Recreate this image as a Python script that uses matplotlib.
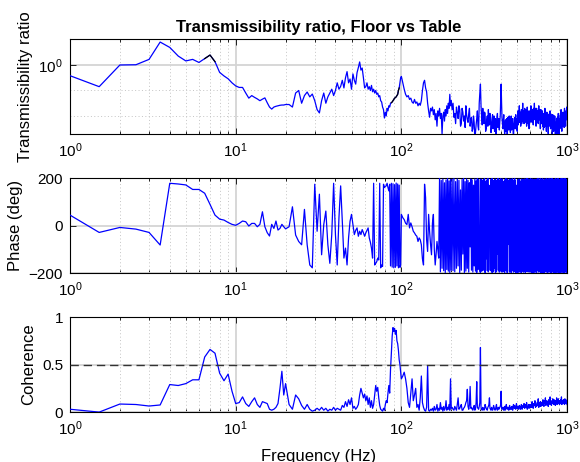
import numpy as np
import matplotlib
matplotlib.use('Agg')
import matplotlib.pyplot as plt
from matplotlib.ticker import FixedLocator, NullFormatter, LogLocator

plt.rcParams['font.family'] = ['Liberation Sans', 'DejaVu Sans']
plt.rcParams['mathtext.fontset'] = 'custom'
plt.rcParams['mathtext.rm'] = 'Liberation Sans'
plt.rcParams['mathtext.it'] = 'Liberation Sans:italic'
plt.rcParams['mathtext.bf'] = 'Liberation Sans:bold'
plt.rcParams['path.simplify'] = False

# ---------------- data ----------------
# frequency grid (Hz), four segments
freq_a = np.arange(1.0, 20.01, 0.5)      # 39 points
freq_b = np.arange(21.0, 100.01, 1.0)    # 80 points
freq_c = np.arange(102.0, 200.01, 2.0)   # 50 points
freq_d = np.arange(202.5, 1000.01, 2.5)  # 320 points

# transmissibility, stored as 100*log10(ratio)
trans_a = [-42, -85, 0, 1, 22, 90, 69, 35, 16, 22, 10, 25, 39, 13, -29, -43, -54, -70, -82, -88,
           -88, -110, -130, -120, -127, -133, -140, -134, -129, -148, -165, -173, -165, -162, -160, -158, -157, -157, -155]
trans_b = [-155, -165, -110, -100, -150, -120, -106, -125, -114, -140,
           -175, -188, -140, -110, -150, -125, -110, -95, -120, -100,
           -70, -95, -84, -60, -90, -50, -26, -70, -55, -95,
           -35, -60, -75, -30, -10, 12, -20, -12, -50, -90,
           -85, -70, -95, -85, -100, -80, -105, -95, -110, -100,
           -115, -110, -125, -120, -140, -145, -165, -175, -208, -185,
           -200, -170, -180, -160, -165, -150, -148, -145, -140, -135,
           -130, -128, -125, -120, -115, -100, -90, -70, -50, -45]
trans_c = [-70, -95, -115, -125, -120, -135, -130, -145, -150, -135,
           -150, -145, -160, -150, -158, -140, -100, -70, -60, -90,
           -105, -150, -180, -205, -170, -180, -165, -195, -175, -215,
           -190, -240, -180, -200, -170, -210, -190, -270, -200, -185,
           -220, -175, -200, -160, -190, -150, -170, -115, -160, -140]
trans_d = [-175, -150, -205, -190, -230, -165, -185, -210, -160, -175, -240, -230, -170, -185, -220, -200, -245, -160, -195, -215,
           -225, -190, -170, -240, -215, -205, -260, -250, -200, -225, -290, -265, -235, -210, -180, -240, -255, -150, -110, -75,
           -160, -200, -235, -170, -210, -230, -185, -190, -260, -250, -215, -200, -240, -175, -225, -235, -190, -205, -265, -245,
           -215, -195, -250, -225, -200, -260, -230, -210, -275, -240, -205, -190, -245, -230, -210, -255, -225, -200, -140, -75,
           -150, -210, -230, -250, -215, -195, -245, -270, -235, -215, -260, -240, -210, -280, -250, -205, -230, -255, -200, -220,
           -245, -265, -225, -200, -255, -240, -215, -210, -265, -290, -240, -225, -205, -250, -230, -195, -250, -235, -210, -260,
           -215, -180, -235, -220, -195, -160, -225, -205, -185, -240, -210, -175, -230, -215, -190, -150, -220, -200, -180, -230,
           -200, -170, -225, -210, -175, -190, -215, -240, -200, -165, -230, -220, -180, -195, -235, -250, -205, -180, -225, -210,
           -190, -160, -215, -200, -185, -225, -200, -175, -210, -235, -170, -190, -210, -150, -195, -215, -170, -185, -220, -240,
           -200, -170, -225, -205, -180, -185, -215, -230, -195, -160, -205, -215, -175, -195, -230, -250, -210, -175, -220, -205,
           -185, -230, -200, -180, -240, -215, -195, -255, -220, -190, -245, -225, -200, -170, -215, -240, -210, -200, -235, -260,
           -215, -185, -240, -225, -190, -205, -245, -270, -230, -195, -220, -235, -200, -215, -240, -180, -215, -250, -225, -200,
           -225, -240, -195, -210, -250, -275, -230, -195, -215, -230, -205, -260, -235, -200, -225, -245, -200, -215, -250, -280,
           -240, -225, -265, -300, -250, -235, -210, -260, -280, -205, -225, -245, -215, -190, -220, -230, -250, -270, -235, -210,
           -225, -250, -215, -195, -230, -235, -200, -175, -205, -225, -245, -260, -225, -205, -220, -240, -210, -185, -215, -230,
           -215, -200, -230, -245, -200, -170, -205, -225, -195, -190, -220, -240, -205, -180, -200, -215, -185, -165, -195, -200]

# phase (deg)
phase_a = [44, -29, -8, -15, -29, -82, 178, 175, 171, 152, 152, 136, 89, 44, 27, 23, 13, 5, 1, 9,
           19, 16, -2, 9, 9, -5, 5, 58, -5, -30, -44, 5, -12, 19, -19, -12, 5, -5, -14]
phase_b = [-5, 79, -40, -67, -81, 68, -81, -166, -178, 174,
           -24, 132, -123, 4, 61, -81, -159, -38, 178, -38,
           -166, 33, 167, 18, -137, -95, -166, -52, 18, 47,
           4, -38, -20, -10, -45, -24, -38, -17, -30, -45,
           -31, -20, -10, -52, -70, -95, -137, 178, -166, -159,
           -152, -137, -145, 178, -178, -166, -172, 174, 160, 165,
           167, 178, 160, 146, 174, -170, 178, -175, 176, -178,
           172, -176, 179, -170, 175, -178, 170, -176, -166, 47]
phase_c = [33, 25, 10, 4, 47, -10, 11, -5, -24, -31,
           -40, -45, -67, -52, -60, -81, -140, -166, 174, 118,
           -60, -109, 47, -24, -80, -123, 10, 47, -100, -166,
           -120, -67, -100, -137, 200, -195, 190, -180, 195, -190,
           180, -198, 192, -185, 198, -192, 188, -198, 194, -188]
phase_d = [195, -190, 198, -195, 185, -180, 196, -170, 190, -198, 150, -188, 194, -120, 199, -198, 185, -192, 196, -180,
           190, -196, 180, -90, 196, -188, 192, -196, 170, -170, 196, -192, 188, -198, 198, -185, 194, 60, -192, -198,
           196, -192, 188, -190, 194, -185, 198, -198, 186, -140, 192, -190, 199, -195, 170, 100, -188, -188, 194, -196,
           198, -198, 190, -192, 185, -180, 196, -198, 192, -194, 188, -120, 199, -188, 194, -196, 186, -192, 198, -180,
           190, -196, 196, -194, 185, 140, -190, -198, 194, -190, 198, -185, 188, -198, 195, -80, 190, 185, -192, -196,
           196, -192, 188, -198, 194, -180, 198, -190, 186, -196, 192, -150, 199, -194, 190, -198, 170, 30, -196, -192,
           192, -198, 188, -188, 196, -190, 194, -196, 185, 170, -192, -198, 196, -192, 188, -180, 194, -196, 190, -194,
           196, -188, 192, -198, 186, -194, 198, -110, 190, 198, -194, -190, 188, -180, 196, -196, 190, -192, 194, -188,
           198, -196, 192, -194, 188, -198, 196, -180, 192, -190, 188, -198, 194, -40, 185, 195, -196, -192, 194, 188,
           -192, -198, 196, 194, -190, -185, 198, 198, -192, -196, 188, 180, -194, -190, 198, 196, -190, -198, 194, 192,
           -196, -188, 192, 198, -198, -194, 188, 150, -194, -198, 196, 190, -190, -196, 194, 194, -188, -180, 196, 198,
           -196, -192, 190, 196, -194, -198, 192, 188, -190, -194, 198, 198, -180, 60, 194, -190, -198, 196, 192, -198,
           196, 192, -190, -196, 198, 198, -194, -188, 190, 194, -198, -198, 192, 190, -196, -120, 190, 196, -198, -194,
           196, 198, -190, -192, 192, 188, -196, -198, 194, 196, -190, -190, 198, 194, -186, -198, 192, 150, -196, -196,
           194, 192, -190, -198, 196, 196, -198, -180, 194, 198, -190, -194, 196, 190, -192, -196, 198, 198, -196, -188,
           192, 194, -196, -198, 190, 196, -194, -192, 198, 198, -190, -190, 194, 188, -198, -196, 192, 194, -196, -198]

# coherence
coh_a = [0.03, 0.0, 0.085, 0.08, 0.064, 0.075, 0.29, 0.28, 0.30, 0.34, 0.34, 0.58, 0.66, 0.62, 0.41, 0.33, 0.40, 0.22, 0.09, 0.10,
         0.16, 0.09, 0.06, 0.11, 0.15, 0.08, 0.05, 0.11, 0.10, 0.09, 0.03, 0.02, 0.03, 0.05, 0.09, 0.25, 0.43, 0.18, 0.30]
coh_b = [0.08, 0.03, 0.18, 0.14, 0.07, 0.03, 0.08, 0.03, 0.01, 0.02,
         0.04, 0.02, 0.05, 0.02, 0.04, 0.01, 0.03, 0.02, 0.05, 0.02,
         0.04, 0.03, 0.02, 0.07, 0.05, 0.11, 0.06, 0.13, 0.08, 0.15,
         0.04, 0.06, 0.03, 0.05, 0.08, 0.18, 0.25, 0.20, 0.15, 0.19,
         0.12, 0.17, 0.08, 0.15, 0.05, 0.12, 0.04, 0.08, 0.18, 0.28,
         0.22, 0.26, 0.15, 0.07, 0.03, 0.02, 0.01, 0.04, 0.02, 0.08,
         0.12, 0.10, 0.20, 0.28, 0.20, 0.45, 0.62, 0.80, 0.89, 0.85,
         0.88, 0.82, 0.86, 0.75, 0.72, 0.65, 0.55, 0.50, 0.42, 0.35]
coh_c = [0.38, 0.42, 0.35, 0.25, 0.10, 0.05, 0.20, 0.35, 0.12, 0.18,
         0.25, 0.05, 0.08, 0.02, 0.15, 0.38, 0.10, 0.05, 0.02, 0.01,
         0.05, 0.49, 0.02, 0.01, 0.03, 0.02, 0.04, 0.01, 0.06, 0.02,
         0.03, 0.08, 0.01, 0.04, 0.02, 0.10, 0.03, 0.05, 0.01, 0.06,
         0.02, 0.04, 0.12, 0.02, 0.05, 0.03, 0.08, 0.02, 0.35, 0.04]
coh_d = [0.05, 0.03, 0.02, 0.06, 0.04, 0.02, 0.08, 0.15, 0.03, 0.04, 0.06, 0.08, 0.02, 0.02, 0.04, 0.05, 0.07, 0.10, 0.12, 0.24,
         0.06, 0.03, 0.08, 0.27, 0.04, 0.05, 0.03, 0.02, 0.05, 0.07, 0.02, 0.03, 0.10, 0.32, 0.05, 0.04, 0.03, 0.06, 0.10, 0.68,
         0.05, 0.03, 0.02, 0.05, 0.04, 0.02, 0.03, 0.08, 0.06, 0.04, 0.03, 0.02, 0.05, 0.06, 0.08, 0.15, 0.04, 0.03, 0.02, 0.05,
         0.04, 0.02, 0.03, 0.07, 0.05, 0.04, 0.02, 0.03, 0.06, 0.08, 0.03, 0.02, 0.04, 0.05, 0.03, 0.04, 0.05, 0.06, 0.08, 0.22,
         0.05, 0.03, 0.04, 0.05, 0.03, 0.02, 0.05, 0.06, 0.02, 0.04, 0.06, 0.08, 0.04, 0.03, 0.05, 0.05, 0.03, 0.02, 0.05, 0.07,
         0.03, 0.04, 0.05, 0.03, 0.04, 0.06, 0.03, 0.02, 0.06, 0.08, 0.05, 0.04, 0.07, 0.05, 0.04, 0.03, 0.06, 0.09, 0.05, 0.04,
         0.05, 0.06, 0.04, 0.03, 0.05, 0.07, 0.06, 0.05, 0.03, 0.04, 0.06, 0.08, 0.05, 0.03, 0.04, 0.06, 0.07, 0.05, 0.06, 0.09,
         0.06, 0.04, 0.05, 0.07, 0.08, 0.05, 0.07, 0.10, 0.05, 0.03, 0.04, 0.06, 0.06, 0.08, 0.05, 0.04, 0.06, 0.07, 0.08, 0.05,
         0.06, 0.08, 0.07, 0.05, 0.08, 0.11, 0.09, 0.06, 0.05, 0.04, 0.07, 0.09, 0.08, 0.07, 0.10, 0.12, 0.07, 0.05, 0.06, 0.08,
         0.08, 0.06, 0.07, 0.10, 0.09, 0.07, 0.11, 0.14, 0.08, 0.05, 0.07, 0.09, 0.10, 0.08, 0.06, 0.11, 0.08, 0.06, 0.09, 0.10,
         0.07, 0.09, 0.10, 0.07, 0.09, 0.13, 0.10, 0.08, 0.07, 0.06, 0.09, 0.11, 0.12, 0.09, 0.11, 0.15, 0.09, 0.07, 0.08, 0.10,
         0.10, 0.12, 0.09, 0.08, 0.11, 0.10, 0.07, 0.06, 0.10, 0.13, 0.08, 0.09, 0.12, 0.11, 0.13, 0.16, 0.10, 0.08, 0.09, 0.10,
         0.09, 0.07, 0.10, 0.12, 0.11, 0.09, 0.12, 0.14, 0.09, 0.10, 0.11, 0.08, 0.10, 0.13, 0.11, 0.09, 0.12, 0.11, 0.08, 0.07,
         0.10, 0.12, 0.09, 0.10, 0.12, 0.15, 0.10, 0.08, 0.09, 0.11, 0.12, 0.09, 0.11, 0.14, 0.12, 0.10, 0.09, 0.12, 0.10, 0.08,
         0.09, 0.11, 0.12, 0.09, 0.10, 0.13, 0.11, 0.10, 0.13, 0.16, 0.10, 0.08, 0.11, 0.12, 0.09, 0.10, 0.11, 0.09, 0.12, 0.13,
         0.11, 0.10, 0.13, 0.12, 0.10, 0.08, 0.11, 0.14, 0.12, 0.11, 0.10, 0.09, 0.12, 0.13, 0.11, 0.10, 0.09, 0.12, 0.10, 0.08]

coh_threshold = 0.5
title_text = 'Transmissibility ratio, Floor vs Table'
ylabels = ['Transmissibility ratio', 'Phase (deg)', 'Coherence']
xlabel_text = 'Frequency (Hz)'

freq = np.concatenate([freq_a, freq_b, freq_c, freq_d])
trans = 10.0 ** (np.array(trans_a + trans_b + trans_c + trans_d, dtype=float) / 100.0)
phase = np.array(phase_a + phase_b + phase_c + phase_d, dtype=float)
coh = np.array(coh_a + coh_b + coh_c + coh_d, dtype=float)

# ---------------- figure ----------------
fig = plt.figure(figsize=(5.8, 4.62), dpi=100)
left, width, height = 0.1207, 0.857, 0.2056
bottoms = [0.71, 0.409, 0.108]
axes = [fig.add_axes([left, b, width, height]) for b in bottoms]

BLUE = '#0000ff'
GRID_MAJOR = dict(color='#d4d4d4', linewidth=1.3, linestyle='-')
GRID_MINOR = dict(color='#c4c4c4', linewidth=0.7, linestyle=(0, (1, 2.5)))
TICK_FS = 11
LABEL_FS = 12

def style(ax):
    ax.set_xscale('log')
    ax.set_xlim(1, 1000)
    ax.xaxis.set_major_locator(FixedLocator([1, 10, 100, 1000]))
    ax.xaxis.set_minor_locator(LogLocator(base=10, subs=np.arange(2, 10)))
    ax.xaxis.set_minor_formatter(NullFormatter())
    ax.tick_params(which='both', direction='in', top=True, right=True, labelsize=TICK_FS,
                   width=0.6, colors='black')
    ax.tick_params(which='major', length=4, pad=5)
    ax.tick_params(which='minor', length=2)
    ax.grid(True, which='major', axis='both', **GRID_MAJOR)
    ax.grid(True, which='minor', axis='x', **GRID_MINOR)
    ax.set_axisbelow(True)
    for s in ax.spines.values():
        s.set_linewidth(0.8)
        s.set_color('black')

# top: transmissibility
ax = axes[0]
style(ax)
ax.plot(freq, trans, color=BLUE, lw=0.9, zorder=3)
mask = coh > coh_threshold
ax.plot(freq, np.where(mask, trans, np.nan), color='black', lw=0.9, zorder=4)
ax.set_yscale('log')
ax.set_ylim(10 ** -2.706, 10 ** 1.02)
ax.yaxis.set_major_locator(FixedLocator([1.0]))
ax.yaxis.set_minor_locator(FixedLocator([0.1, 0.01]))
ax.yaxis.set_minor_formatter(NullFormatter())
ax.tick_params(axis='y', which='minor', length=0)
ax.grid(True, which='minor', axis='y', **GRID_MINOR)
ax.set_title(title_text, fontsize=LABEL_FS, fontweight='bold', pad=5)
ax.set_ylabel(ylabels[0], fontsize=LABEL_FS)

# middle: phase
ax = axes[1]
style(ax)
ax.plot(freq, phase, color=BLUE, lw=0.9, zorder=3)
ax.set_ylim(-200, 200)
ax.set_yticks([-200, 0, 200])
ax.set_ylabel(ylabels[1], fontsize=LABEL_FS)

# bottom: coherence
ax = axes[2]
style(ax)
ax.plot(freq, coh, color=BLUE, lw=0.9, zorder=3)
ax.axhline(coh_threshold, color='#333333', lw=1.0, linestyle=(0, (6, 3.5)), zorder=4)
ax.set_ylim(0, 1)
ax.set_yticks([0, 0.5, 1])
ax.set_yticklabels(['0', '0.5', '1'])
ax.set_ylabel(ylabels[2], fontsize=LABEL_FS)
ax.set_xlabel(xlabel_text, fontsize=LABEL_FS, labelpad=8)

fig.savefig('out.png', dpi=100)
